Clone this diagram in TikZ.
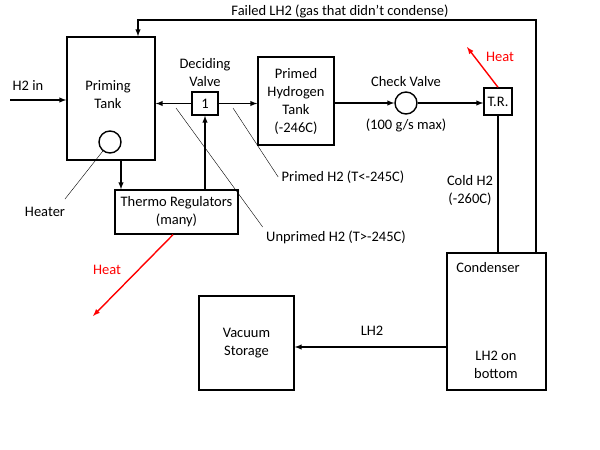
\documentclass[tikz,border=0pt]{standalone}
\usepackage{fontspec}
\setmainfont{Carlito}
\usetikzlibrary{positioning}
\tikzset{
  unit/.style={draw,line width=1.4pt,align=center,inner sep=0pt},
  flow/.style={->,line width=1.4pt,>=latex},
  heat/.style={->,line width=1.4pt,>=latex,red},
  note/.style={align=center,font=\fontsize{14.5}{18}\selectfont}
}
\begin{document}
\begin{tikzpicture}[x=1pt,y=-1pt,font=\fontsize{14.5}{18}\selectfont]
  \useasboundingbox (0,0) rectangle (600,450);

  % boxes
  \node[unit,minimum width=88,minimum height=123] (prime) at (111,98.5) {};
  \node[note] at (108,95) {Priming\\Tank};
  \node[draw,line width=1.4pt,circle,minimum size=22,inner sep=0pt] (heater) at (110,142) {};
  \node[unit,minimum width=123,minimum height=44] (thermo) at (176.5,212) {Thermo Regulators\\(many)};
  \node[unit,minimum width=26,minimum height=23] (valve) at (205,103.5) {1};
  \node[note,above=1pt of valve] (valvelbl) {Deciding\\Valve};
  \node[unit,minimum width=76,minimum height=88] (primed) at (296,101) {Primed\\Hydrogen\\Tank\\(-246C)};
  \node[draw,line width=1.4pt,circle,minimum size=22,inner sep=0pt] (check) at (406,103) {};
  \node[note,above=1pt of check] {Check Valve};
  \node[note,below=1pt of check] {(100 g/s max)};
  \node[unit,minimum width=28,minimum height=27] (tr) at (498,101.5) {T.R.};
  \node[unit,minimum width=99,minimum height=137] (cond) at (496.5,321.5) {};
  \node[note] at (488,268) {Condenser};
  \node[note] at (496,365) {LH2 on\\bottom};
  \node[unit,minimum width=95,minimum height=94] (vac) at (246.5,343) {Vacuum\\Storage};

  % flows
  \coordinate (in) at (10,100);
  \node[note] at (28,86) {H2 in};
  \draw[flow] (in) -- (in -| prime.west);
  \draw[flow] (prime.south -| 121,0) -- (thermo.north -| 121,0);
  \draw[flow] (valve.west) -- (valve.west -| prime.east);
  \draw[flow] (valve.east) -- (valve.east -| primed.west);
  \draw[flow] (thermo.north -| valve.south) -- (valve.south);
  \draw[flow] (primed.east |- check) -- (check.west);
  \draw[flow] (check.east) -- (check.east -| tr.west);
  \draw[line width=1.4pt] (tr.south) -- (tr.south |- cond.north);
  \node[note] at (470,190) {Cold H2\\(-260C)};
  \coordinate (up) at (536,20);
  \coordinate (over) at (138,20);
  \draw[flow] (cond.north -| up) -- (up) -- (over) -- (over |- prime.north);
  \node[note] at (340,11) {Failed LH2 (gas that didn't condense)};
  \draw[flow] (cond.west |- 0,347) -- (vac.east |- 0,347);
  \node[note] at (372,331) {LH2};

  % heat
  \coordinate (heat1) at (93,316);
  \coordinate (heat2) at (467,47);
  \draw[heat] (thermo.south -| 173,0) -- (heat1);
  \node[note,red] at (107,270) {Heat};
  \draw[heat] (tr.north) -- (heat2);
  \node[note,red] at (500,57) {Heat};

  % labels
  \node[note] (heaterlbl) at (45,212) {Heater};
  \draw (65,199) -- (heater);
  \node[note] (primedlbl) at (343,177) {Primed H2 (T<-245C)};
  \draw (233,108) -- (primedlbl.west);
  \node[note] (unprimedlbl) at (336,237) {Unprimed H2 (T>-245C)};
  \draw (176,108) -- (unprimedlbl.north west);
\end{tikzpicture}
\end{document}
